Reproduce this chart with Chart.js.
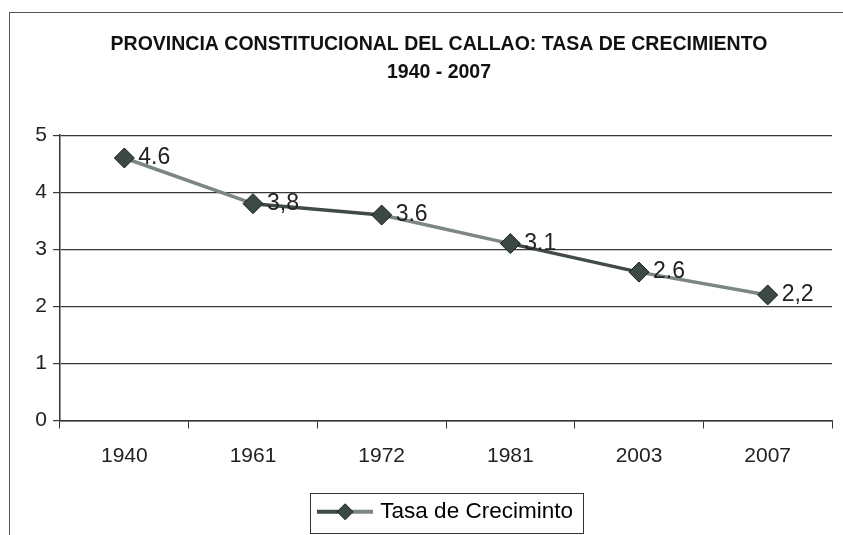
<!DOCTYPE html>
<html>
<head>
<meta charset="utf-8">
<script src="https://cdn.jsdelivr.net/npm/chart.js@4"></script>
<style>
  html, body { margin: 0; padding: 0; background: #fff; }
  #frame {
    position: absolute; left: 9px; top: 12px; width: 834px; height: 523px;
    border-left: 1px solid #555; border-top: 1px solid #555;
  }
</style>
</head>
<body>
<div id="frame"><canvas id="tasa-chart" width="833" height="522"></canvas></div>
<script>
// Data
const years = ['1940', '1961', '1972', '1981', '2003', '2007'];
const tasa = [4.6, 3.8, 3.6, 3.1, 2.6, 2.2];
const tasaLabels = ['4.6', '3,8', '3.6', '3.1', '2.6', '2,2'];
const titleLines = ['PROVINCIA CONSTITUCIONAL DEL CALLAO: TASA DE CRECIMIENTO', '1940 - 2007'];
const seriesName = 'Tasa de Creciminto';

const FONT = "'Liberation Sans', Arial, sans-serif";
const darkLine = '#404a47';
const lightLine = '#7c8683';
const markColor = '#3b4a46';

// Small picture for the legend: line with a diamond in the middle
function legendSymbol() {
    const c = document.createElement('canvas');
    c.width = 56;
    c.height = 20;
    const g = c.getContext('2d');
    g.lineWidth = 4;
    g.strokeStyle = darkLine;
    g.beginPath();
    g.moveTo(0, 10);
    g.lineTo(28, 10);
    g.stroke();
    g.strokeStyle = lightLine;
    g.beginPath();
    g.moveTo(28, 10);
    g.lineTo(56, 10);
    g.stroke();
    g.fillStyle = markColor;
    g.strokeStyle = '#1a1a1a';
    g.lineWidth = 1;
    g.beginPath();
    g.moveTo(28, 2);
    g.lineTo(36, 10);
    g.lineTo(28, 18);
    g.lineTo(20, 10);
    g.closePath();
    g.fill();
    g.stroke();
    return c;
}

// Title and legend sit a bit right of the canvas centre in the original
const shiftBlocks = {
    id: 'shiftBlocks',
    beforeDraw(chart) {
        const t = chart.titleBlock;
        t.left += 16;
        t.right += 16;
        const lg = chart.legend;
        lg.left += 24;
        lg.right += 24;
        lg.legendHitBoxes.forEach(h => { h.left += 24; });
    }
};

// Value labels to the right of each point
const valueLabels = {
    id: 'valueLabels',
    afterDatasetsDraw(chart) {
        const ctx = chart.ctx;
        const meta = chart.getDatasetMeta(0);
        ctx.save();
        ctx.font = `23px ${FONT}`;
        ctx.fillStyle = '#222';
        ctx.textBaseline = 'middle';
        ctx.textAlign = 'left';
        meta.data.forEach((pt, i) => {
            ctx.fillText(tasaLabels[i], pt.x + 14, pt.y);
        });
        ctx.restore();
    }
};

// Box round the legend item
const legendBox = {
    id: 'legendBox',
    afterDraw(chart) {
        const hb = chart.legend.legendHitBoxes[0];
        if (!hb) return;
        const ctx = chart.ctx;
        ctx.save();
        ctx.strokeStyle = '#333';
        ctx.lineWidth = 1;
        ctx.strokeRect(Math.round(hb.left - 11) + 0.5, Math.round(hb.top - 8) + 0.5, Math.round(hb.width + 21), Math.round(hb.height + 17));
        ctx.restore();
    }
};

const ctx = document.getElementById('tasa-chart').getContext('2d');
new Chart(ctx, {
    type: 'line',
    data: {
        labels: years,
        datasets: [{
            label: seriesName,
            data: tasa,
            borderColor: darkLine,
            borderWidth: 3.5,
            segment: {
                borderColor: c => (c.p0DataIndex % 2 === 0 ? lightLine : darkLine)
            },
            pointStyle: 'rectRot',
            pointRadius: 10,
            pointBackgroundColor: markColor,
            pointBorderColor: '#1a1a1a',
            pointBorderWidth: 1,
            fill: false,
            tension: 0
        }]
    },
    options: {
        responsive: false,
        animation: false,
        layout: { padding: { left: 0, right: 7, top: 0, bottom: 2 } },
        plugins: {
            title: {
                display: true,
                text: titleLines,
                color: '#111',
                font: { family: FONT, size: 19.5, weight: 'bold', lineHeight: 1.44 },
                padding: { top: 18, bottom: 48 }
            },
            legend: {
                position: 'bottom',
                labels: {
                    color: '#111',
                    font: { family: FONT, size: 22.5 },
                    usePointStyle: true,
                    pointStyleWidth: 48,
                    padding: 14,
                    generateLabels: () => [{
                        text: seriesName,
                        pointStyle: legendSymbol(),
                        fillStyle: markColor,
                        strokeStyle: darkLine,
                        datasetIndex: 0
                    }]
                }
            },
            tooltip: { enabled: false }
        },
        scales: {
            x: {
                offset: true,
                grid: {
                    offset: true,
                    drawOnChartArea: false,
                    drawTicks: true,
                    tickLength: 8,
                    color: '#333'
                },
                border: { color: '#333', width: 1.5 },
                ticks: { color: '#222', font: { family: FONT, size: 21 }, padding: 15 },
                afterFit(scale) { scale.height = 66; }
            },
            y: {
                min: 0,
                max: 5,
                grid: { color: '#3a3a3a', lineWidth: 1.2, tickLength: 7 },
                border: { color: '#333', width: 1.5 },
                ticks: { stepSize: 1, color: '#222', font: { family: FONT, size: 21 }, padding: 6 },
                afterFit(scale) { scale.width = 50; }
            }
        }
    },
    plugins: [shiftBlocks, valueLabels, legendBox]
});
</script>
</body>
</html>
